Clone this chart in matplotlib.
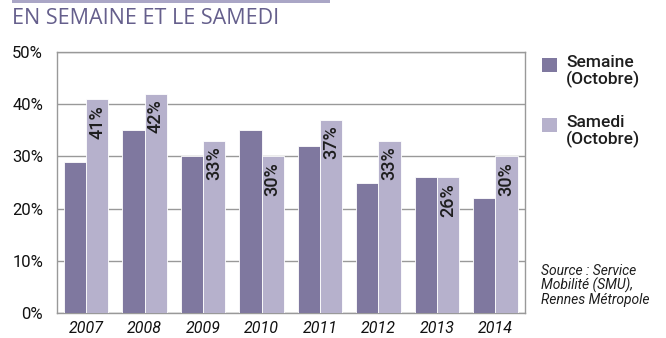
import matplotlib
matplotlib.use("Agg")
from matplotlib import pyplot as plt
from matplotlib.patches import Rectangle
import numpy as np

years = ["2007", "2008", "2009", "2010", "2011", "2012", "2013", "2014"]
semaine = [29, 35, 30, 35, 32, 25, 26, 22]
samedi = [41, 42, 33, 30, 37, 33, 26, 30]
yticks = [0, 10, 20, 30, 40, 50]

c_sem = "#7f789f"
c_sam = "#b6b1cc"
txt = "#1e1e1e"
fam = ["Roboto", "DejaVu Sans"]

fig = plt.figure(figsize=(6.66, 3.38), dpi=100)
ax = fig.add_axes([0.0856, 0.074, 0.702, 0.772])

x = np.arange(len(years))
w = 0.38
ax.bar(x - w / 2, semaine, w, color=c_sem, edgecolor="white", linewidth=0.6, zorder=3)
ax.bar(x + w / 2, samedi, w, color=c_sam, edgecolor="white", linewidth=0.6, zorder=3)

# value labels inside the saturday bars
for xi, v in zip(x, samedi):
    ax.text(xi + w / 2, v - 1.1, "%d%%" % v, rotation=90, ha="center", va="top",
            fontsize=13, color=txt, zorder=4, family=fam, weight="medium")

ax.set_xlim(-0.5, len(years) - 0.5)
ax.set_ylim(0, 50)
ax.set_yticks(yticks)
ax.set_yticklabels(["%d%%" % t for t in yticks], fontsize=12, color="#111111", family=fam)
ax.set_xticks(x)
ax.set_xticklabels(years, fontsize=11.5, style="italic", color="#111111", family=fam)
ax.tick_params(length=0, pad=6)
ax.tick_params(axis="y", pad=10)
ax.grid(axis="y", color="#999999", linewidth=1.0, zorder=0)
for s in ax.spines.values():
    s.set_color("#999999")
    s.set_linewidth(1.0)

# header band and title
fig.add_artist(Rectangle((12 / 666, 1 - 3 / 338), 318 / 666, 3 / 338,
                         transform=fig.transFigure, color="#aaa6c6", lw=0))
fig.text(12 / 666, 1 - 19 / 338, "EN SEMAINE ET LE SAMEDI", fontsize=15.5,
         color="#655f8c", family="Open Sans", weight="normal", va="center", ha="left")

# legend
for ytop, col, lab in [(58, c_sem, "Semaine\n(Octobre)"), (118, c_sam, "Samedi\n(Octobre)")]:
    fig.add_artist(Rectangle((542 / 666, 1 - (ytop + 14) / 338), 15 / 666, 14 / 338,
                             transform=fig.transFigure, color=col, lw=0))
    fig.text(566 / 666, 1 - (ytop - 3) / 338, lab, fontsize=12.5, color=txt,
             va="top", ha="left", linespacing=1.1, family=fam, weight="medium")

fig.text(541 / 666, 1 - 264 / 338, "Source : Service\nMobilité (SMU),\nRennes Métropole",
         fontsize=10, style="italic", color=txt,
         va="top", ha="left", linespacing=1.0, family=fam)

fig.savefig("out.png", dpi=100)
